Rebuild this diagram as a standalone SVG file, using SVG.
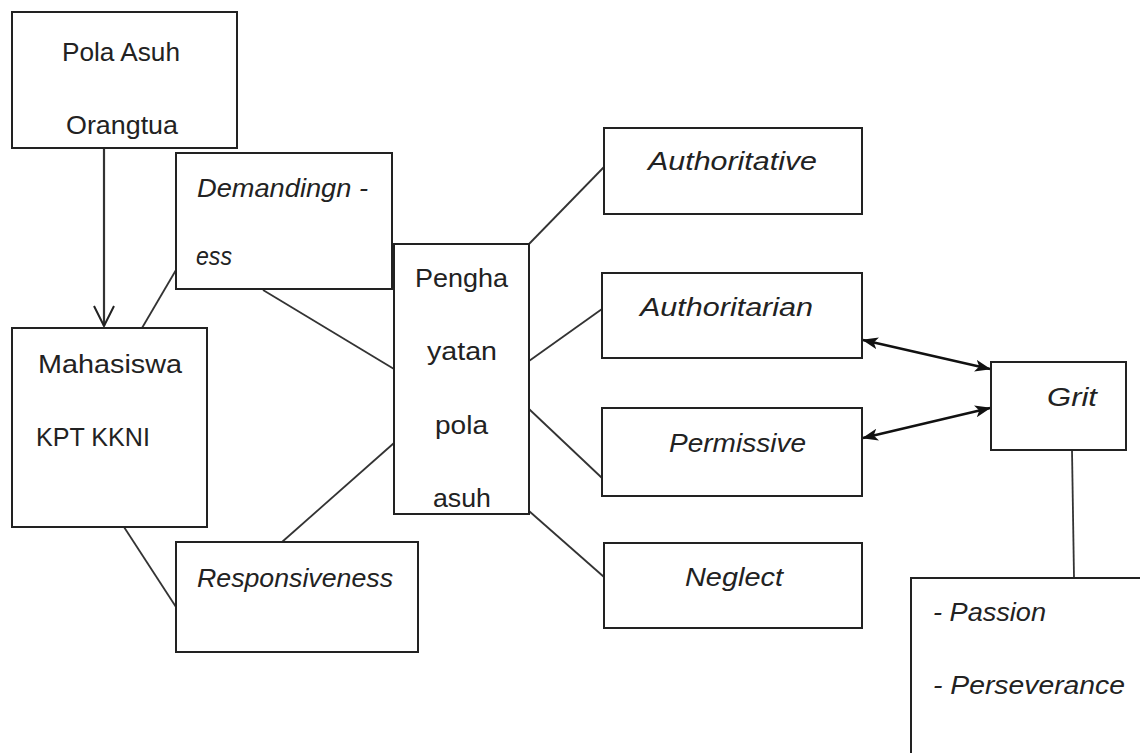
<svg xmlns="http://www.w3.org/2000/svg" width="1140" height="753" viewBox="0 0 1140 753">
<style>
.box{fill:#fff;stroke:#222;stroke-width:2}
.t{font-family:"Liberation Sans",Arial,sans-serif;font-size:26px;fill:#222}
.i{font-style:italic}
.ln{stroke:#333;stroke-width:1.8;fill:none}
.ar{stroke:#111;stroke-width:2.4;fill:none}
</style>
<defs>
<marker id="open" viewBox="0 0 24 24" refX="22" refY="12" markerWidth="24" markerHeight="24" markerUnits="userSpaceOnUse" orient="auto">
<path d="M2,2 L22,12 L2,22" fill="none" stroke="#222" stroke-width="2"/>
</marker>
<marker id="fill" viewBox="0 0 16 12" refX="15" refY="6" markerWidth="16" markerHeight="12" markerUnits="userSpaceOnUse" orient="auto-start-reverse">
<path d="M0,0 L16,6 L0,12 L4,6 z" fill="#111"/>
</marker>
</defs>
<rect width="1140" height="753" fill="#fff"/>
<g id="connectors">
<line class="ln" style="stroke-width:2.2" x1="104" y1="148" x2="104" y2="326" marker-end="url(#open)"/>
<line class="ln" x1="176" y1="270" x2="142" y2="328"/>
<line class="ln" x1="263" y1="290" x2="394" y2="369"/>
<line class="ln" x1="124" y1="527" x2="176" y2="607"/>
<line class="ln" x1="282" y1="542" x2="394" y2="443"/>
<line class="ln" x1="529" y1="244" x2="604" y2="167"/>
<line class="ln" x1="529" y1="361" x2="602" y2="309"/>
<line class="ln" x1="529" y1="409" x2="602" y2="478"/>
<line class="ln" x1="529" y1="511" x2="604" y2="577"/>
<line class="ar" x1="863" y1="340" x2="990" y2="369" marker-start="url(#fill)" marker-end="url(#fill)"/>
<line class="ar" x1="863" y1="438" x2="990" y2="408" marker-start="url(#fill)" marker-end="url(#fill)"/>
<line class="ln" x1="1072" y1="450" x2="1074" y2="578"/>
</g>
<g id="pola-asuh-orangtua">
<rect class="box" x="12" y="12" width="225" height="136"/>
<text class="t" x="62" y="61" textLength="118" lengthAdjust="spacingAndGlyphs">Pola Asuh</text>
<text class="t" x="66" y="134" textLength="112" lengthAdjust="spacingAndGlyphs">Orangtua</text>
</g>
<g id="demandingness">
<rect class="box" x="176" y="153" width="216" height="136"/>
<text class="t i" x="197" y="197" textLength="171" lengthAdjust="spacingAndGlyphs">Demandingn -</text>
<text class="t i" x="196" y="265" textLength="36" lengthAdjust="spacingAndGlyphs">ess</text>
</g>
<g id="mahasiswa">
<rect class="box" x="12" y="328" width="195" height="199"/>
<text class="t" x="38" y="373" textLength="144" lengthAdjust="spacingAndGlyphs">Mahasiswa</text>
<text class="t" x="36" y="446" textLength="114" lengthAdjust="spacingAndGlyphs">KPT KKNI</text>
</g>
<g id="responsiveness">
<rect class="box" x="176" y="542" width="242" height="110"/>
<text class="t i" x="197" y="587" textLength="196" lengthAdjust="spacingAndGlyphs">Responsiveness</text>
</g>
<g id="penghayatan">
<rect class="box" x="394" y="244" width="135" height="270"/>
<text class="t" x="415" y="287" textLength="93" lengthAdjust="spacingAndGlyphs">Pengha</text>
<text class="t" x="427" y="360" textLength="70" lengthAdjust="spacingAndGlyphs">yatan</text>
<text class="t" x="435" y="434" textLength="53" lengthAdjust="spacingAndGlyphs">pola</text>
<text class="t" x="433" y="507" textLength="58" lengthAdjust="spacingAndGlyphs">asuh</text>
</g>
<g id="authoritative">
<rect class="box" x="604" y="128" width="258" height="86"/>
<text class="t i" x="648" y="170" textLength="169" lengthAdjust="spacingAndGlyphs">Authoritative</text>
</g>
<g id="authoritarian">
<rect class="box" x="602" y="273" width="260" height="85"/>
<text class="t i" x="640" y="316" textLength="173" lengthAdjust="spacingAndGlyphs">Authoritarian</text>
</g>
<g id="permissive">
<rect class="box" x="602" y="408" width="260" height="88"/>
<text class="t i" x="669" y="452" textLength="137" lengthAdjust="spacingAndGlyphs">Permissive</text>
</g>
<g id="neglect">
<rect class="box" x="604" y="543" width="258" height="85"/>
<text class="t i" x="685" y="586" textLength="98" lengthAdjust="spacingAndGlyphs">Neglect</text>
</g>
<g id="grit">
<rect class="box" x="991" y="362" width="135" height="88"/>
<text class="t i" x="1047" y="406" textLength="50" lengthAdjust="spacingAndGlyphs">Grit</text>
</g>
<g id="grit-aspects">
<rect class="box" x="911" y="578" width="240" height="190"/>
<text class="t i" x="933" y="621" textLength="113" lengthAdjust="spacingAndGlyphs">- Passion</text>
<text class="t i" x="933" y="694" textLength="192" lengthAdjust="spacingAndGlyphs">- Perseverance</text>
</g>
</svg>
